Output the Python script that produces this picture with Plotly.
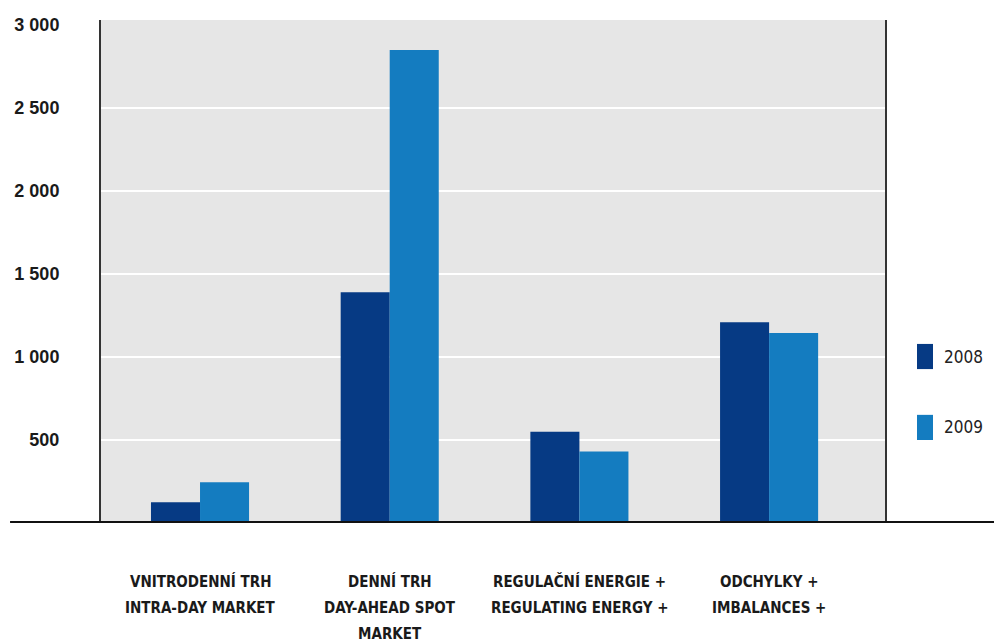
import plotly.graph_objects as go

# Market categories (each entry is the list of label lines, Czech / English)
category_lines = [
    ["VNITRODENNÍ TRH", "INTRA-DAY MARKET"],
    ["DENNÍ TRH", "DAY-AHEAD SPOT", "MARKET"],
    ["REGULAČNÍ ENERGIE +", "REGULATING ENERGY +"],
    ["ODCHYLKY +", "IMBALANCES +"],
]
categories = [" / ".join(lines) for lines in category_lines]

series_names = ["2008", "2009"]
values_2008 = [125, 1390, 550, 1210]
values_2009 = [245, 2850, 430, 1145]
series_colors = ["#063a84", "#147cc0"]

y_tick_values = [500, 1000, 1500, 2000, 2500, 3000]
y_tick_labels = ["500", "1 000", "1 500", "2 000", "2 500", "3 000"]
grid_values = [500, 1000, 1500, 2000, 2500]

LABEL_FONT = "Liberation Sans Narrow, DejaVu Sans Condensed, Arial Narrow, sans-serif"
TICK_FONT = "Liberation Sans, Arial, Helvetica, sans-serif"


def condensed(text):
    return f"<span style='font-stretch:condensed'>{text}</span>"


fig = go.Figure()
for name, vals, color in zip(series_names, [values_2008, values_2009], series_colors):
    fig.add_trace(go.Bar(
        x=categories, y=vals, name=name,
        marker=dict(color=color, line=dict(width=0)),
        showlegend=False,
    ))

# Multi-line category labels under each group
line_step = 0.052
for cat, lines in zip(categories, category_lines):
    for i, text in enumerate(lines):
        fig.add_annotation(
            x=cat, xref="x", y=-0.117 - i * line_step, yref="paper",
            text=condensed(f"<b>{text}</b>"), showarrow=False,
            xanchor="center", yanchor="middle",
            font=dict(family=LABEL_FONT, size=15, color="#1a1a1a"),
        )

# Legend drawn as tall swatches with year labels on the right
legend_y = [0.331, 0.190]
for name, color, yc in zip(series_names, series_colors, legend_y):
    fig.add_shape(
        type="rect", xref="paper", yref="paper",
        x0=1.0408, x1=1.0612, y0=yc - 0.025, y1=yc + 0.025,
        fillcolor=color, line=dict(width=0),
    )
    fig.add_annotation(
        x=1.0727, xref="paper", y=yc, yref="paper",
        text=condensed(name), showarrow=False, xanchor="left", yanchor="middle",
        font=dict(family=LABEL_FONT, size=17, color="#222222"),
    )

# Heavy baseline across the full width at zero
fig.add_shape(
    type="line", xref="paper", yref="y",
    x0=-0.116, x1=1.14, y0=0, y1=0,
    line=dict(color="#111111", width=4),
)

fig.update_layout(
    width=994, height=643,
    margin=dict(l=101, r=109, t=20, b=120),
    paper_bgcolor="white",
    plot_bgcolor="#e6e6e6",
    barmode="group",
    bargap=0.483,
    bargroupgap=0,
    showlegend=False,
    xaxis=dict(
        type="category",
        range=[-0.522, 3.611],
        showticklabels=False,
        showgrid=False,
        showline=False,
        zeroline=False,
        ticks="",
    ),
    yaxis=dict(
        range=[0, 3030],
        tickmode="array",
        tickvals=y_tick_values,
        ticktext=y_tick_labels,
        ticklabelstandoff=36,
        tickfont=dict(family=TICK_FONT, size=18, color="#1a1a1a", weight="bold"),
        showgrid=False,
        minor=dict(
            tickmode="array", tickvals=grid_values,
            showgrid=True, gridcolor="white", gridwidth=2, ticks="",
        ),
        zeroline=False,
        showline=True,
        mirror=True,
        linecolor="#333333",
        linewidth=2,
        ticks="",
    ),
)

fig.write_html("out.html")
